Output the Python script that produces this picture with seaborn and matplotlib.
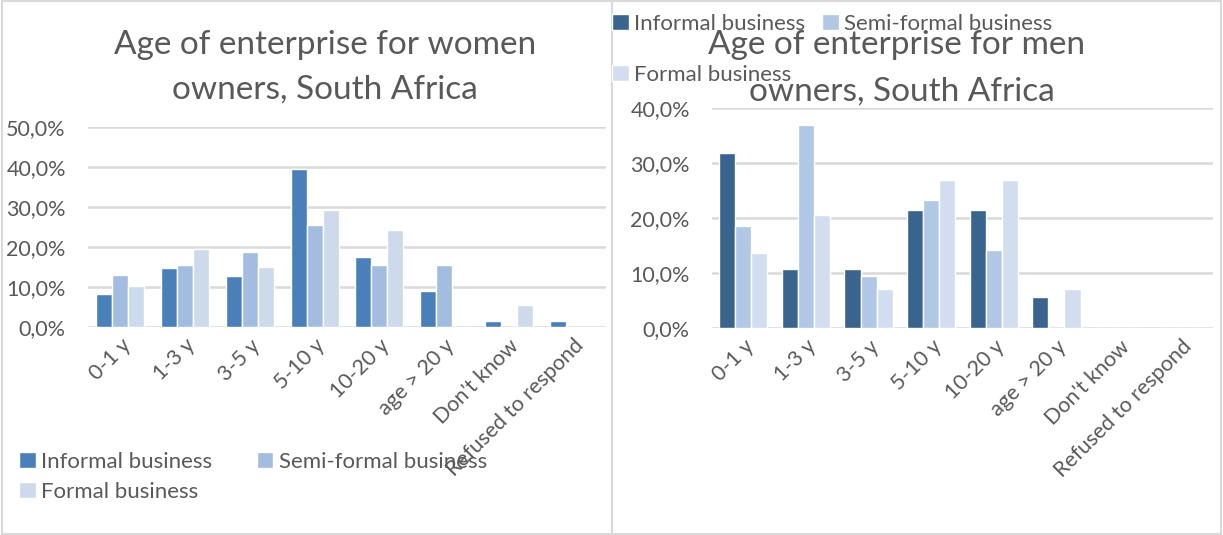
import pandas as pd
import matplotlib.pyplot as plt
import seaborn as sns
from matplotlib.patches import Rectangle, Patch
from matplotlib.lines import Line2D
from matplotlib.ticker import FuncFormatter

# Data (share of enterprises, %)
age_groups = ['0-1 y', '1-3 y', '3-5 y', '5-10 y', '10-20 y', 'age > 20 y', "Don't know", 'Refused to respond']
business_types = ['Informal business', 'Semi-formal business', 'Formal business']

women_informal = [8.3, 14.7, 12.7, 39.5, 17.5, 9.1, 1.5, 1.5]
women_semi = [13.1, 15.5, 18.7, 25.5, 15.5, 15.5, 0.0, 0.0]
women_formal = [10.2, 19.5, 15.1, 29.2, 24.3, 0.0, 5.5, 0.0]

men_informal = [31.9, 10.8, 10.8, 21.4, 21.4, 5.7, 0.0, 0.0]
men_semi = [18.5, 36.9, 9.4, 23.2, 14.1, 0.0, 0.0, 0.0]
men_formal = [13.7, 20.5, 7.1, 26.9, 26.9, 7.1, 0.0, 0.0]

women_colors = ['#4A80B9', '#A3BDE0', '#CCDAEC']
men_colors = ['#39648E', '#B0C7E6', '#D2DEEF']


def long_table(informal, semi, formal):
    rows = []
    for vals, btype in zip([informal, semi, formal], business_types):
        for age, v in zip(age_groups, vals):
            rows.append({'age': age, 'type': btype, 'share': v})
    return pd.DataFrame(rows)


women_df = long_table(women_informal, women_semi, women_formal)
men_df = long_table(men_informal, men_semi, men_formal)

sns.set_style('white')
plt.rcParams['font.family'] = ['Lato', 'DejaVu Sans']
text_color = '#595959'
grid_color = '#D9D9D9'

W, H = 1223, 535
fig = plt.figure(figsize=(W / 100, H / 100), dpi=100)


def fx(px):
    return px / W


def fy(py):
    return 1 - py / H


# panel borders
fig.patches.append(Rectangle((fx(2), fy(534)), fx(1219), fy(1) - fy(534), transform=fig.transFigure,
                             fill=False, edgecolor=grid_color, linewidth=1.5))
fig.lines.append(Line2D([fx(612), fx(612)], [fy(534), fy(1)], transform=fig.transFigure,
                        color=grid_color, linewidth=1.5))

pct = FuncFormatter(lambda v, _: f'{v:.1f}%'.replace('.', ','))


def draw(ax, df, colors, ymax, width):
    sns.barplot(data=df, x='age', y='share', hue='type', palette=colors, order=age_groups,
                hue_order=business_types, width=width, saturation=1, gap=0, ax=ax, legend=False)
    ax.set_ylim(0, ymax)
    ax.set_yticks(range(0, ymax + 1, 10))
    ax.yaxis.set_major_formatter(pct)
    ax.yaxis.grid(True, color=grid_color, linewidth=1.8)
    ax.set_axisbelow(True)
    for s in ax.spines.values():
        s.set_visible(False)
    ax.set_xlabel('')
    ax.set_ylabel('')
    ax.tick_params(axis='y', labelsize=15.5, labelcolor=text_color, length=0, pad=16)
    ax.tick_params(axis='x', labelsize=15.5, labelcolor=text_color, length=0, pad=6)
    plt.setp(ax.get_xticklabels(), rotation=45, ha='right', rotation_mode='anchor')


ax1 = fig.add_axes([fx(88), fy(327), fx(518), fy(127) - fy(327)])
draw(ax1, women_df, women_colors, 50, 0.74)

ax2 = fig.add_axes([fx(712), fy(328), fx(501), fy(108) - fy(328)])
draw(ax2, men_df, men_colors, 40, 0.77)

# titles
title_kw = dict(ha='center', va='center', fontsize=24, color=text_color)
fig.text(fx(325), fy(45), 'Age of enterprise for women', **title_kw)
fig.text(fx(325), fy(90), 'owners, South Africa', **title_kw)
fig.text(fx(897), fy(45), 'Age of enterprise for men', **title_kw)
fig.text(fx(902), fy(92), 'owners, South Africa', **title_kw)

# legends (row-major order for 2 columns)
order = [0, 2, 1]
labels = [business_types[i] for i in order]
leg_kw = dict(ncol=2, loc='upper left', frameon=False, fontsize=16, labelcolor=text_color,
              handlelength=0.75, handleheight=0.75, handletextpad=0.25, borderaxespad=0, borderpad=0)

h1 = [Patch(facecolor=women_colors[i]) for i in order]
fig.legend(h1, labels, bbox_to_anchor=(fx(19), fy(452)), columnspacing=2.0, labelspacing=0.45, **leg_kw)

h2 = [Patch(facecolor=men_colors[i]) for i in order]
fig.legend(h2, labels, bbox_to_anchor=(fx(612), fy(14)), columnspacing=0.75, labelspacing=1.38, **leg_kw)

fig.savefig('out.png', dpi=100)
